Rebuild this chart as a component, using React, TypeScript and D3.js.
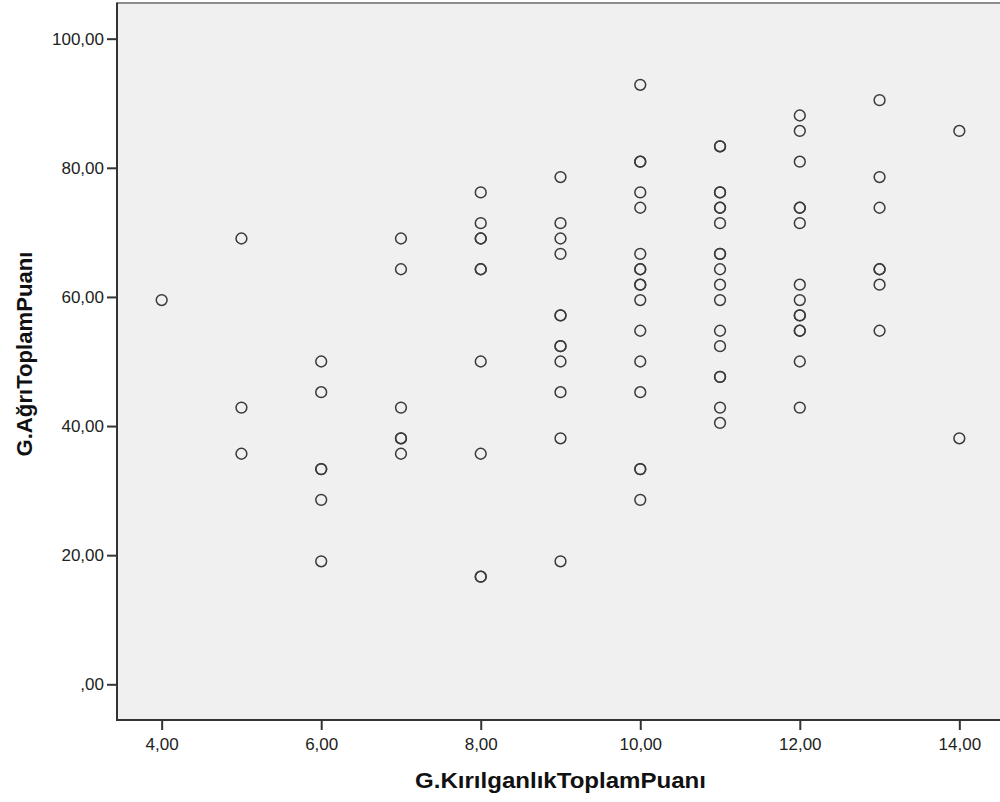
import { useEffect, useRef } from 'react';
import * as d3 from 'd3';

// G.KırılganlıkToplamPuanı groups and the G.AğrıToplamPuanı scores read per group
const fragilityScores = [4, 5, 6, 7, 8, 9, 10, 11, 12, 13, 14];
const painScores: number[][] = [
  [59.52],
  [69.05, 42.86, 35.71],
  [50.0, 45.24, 33.33, 33.33, 28.57, 19.05],
  [69.05, 64.29, 42.86, 38.1, 38.1, 35.71],
  [76.19, 71.43, 69.05, 69.05, 64.29, 64.29, 50.0, 35.71, 16.67, 16.67],
  [78.57, 71.43, 69.05, 66.67, 57.14, 57.14, 52.38, 52.38, 50.0, 45.24, 38.1, 19.05],
  [92.86, 80.95, 80.95, 76.19, 73.81, 66.67, 64.29, 64.29, 61.9, 61.9, 59.52, 54.76, 50.0, 45.24, 33.33, 33.33, 28.57],
  [83.33, 83.33, 76.19, 76.19, 73.81, 73.81, 71.43, 66.67, 66.67, 64.29, 61.9, 59.52, 54.76, 52.38, 47.62, 47.62, 42.86, 40.48],
  [88.1, 85.71, 80.95, 73.81, 73.81, 71.43, 61.9, 59.52, 57.14, 57.14, 54.76, 54.76, 50.0, 42.86],
  [90.48, 78.57, 73.81, 64.29, 64.29, 61.9, 54.76],
  [85.71, 38.1],
];
const xTicks = [4, 6, 8, 10, 12, 14];
const yTicks = [0, 20, 40, 60, 80, 100];
const xTitle = 'G.KırılganlıkToplamPuanı';
const yTitle = 'G.AğrıToplamPuanı';

const fmt = (v: number) => d3.format('.2f')(v).replace('.', ',').replace(/^0,/, ',');

const App = () => {
  const svgRef = useRef<SVGSVGElement | null>(null);

  useEffect(() => {
    const width = 1000;
    const height = 802;
    const left = 117;
    const top = 3.5;
    const bottom = 720;
    const right = 1004;
    const font = 'Arial, "Liberation Sans", sans-serif';

    const points = fragilityScores.flatMap((f, i) =>
      painScores[i].map(p => ({ x: f, y: p }))
    );

    const svg = d3.select(svgRef.current);
    svg.selectAll('*').remove();
    svg.attr('width', width).attr('height', height);

    const x = d3.scaleLinear().domain([3.44, 14.56]).range([left, right]);
    const y = d3.scaleLinear().domain([-5.53, 105.45]).range([bottom, top]);

    // plot background
    svg.append('rect')
      .attr('x', left)
      .attr('y', top)
      .attr('width', right - left)
      .attr('height', bottom - top)
      .attr('fill', '#f0f0f0');

    // top frame line
    svg.append('line')
      .attr('x1', left).attr('x2', width)
      .attr('y1', top - 0.5).attr('y2', top - 0.5)
      .attr('stroke', '#8c8c8c')
      .attr('stroke-width', 2);

    // points
    svg.append('g')
      .selectAll('circle')
      .data(points)
      .join('circle')
      .attr('cx', d => x(d.x))
      .attr('cy', d => y(d.y))
      .attr('r', 5.4)
      .attr('fill', 'none')
      .attr('stroke', '#3a3a3a')
      .attr('stroke-width', 1.5);

    // X axis
    const xAxis = svg.append('g')
      .attr('transform', `translate(0,${bottom})`)
      .call(d3.axisBottom(x).tickValues(xTicks).tickFormat(d => fmt(d as number)).tickSize(10).tickPadding(8));
    xAxis.select('.domain').remove();
    xAxis.selectAll('text')
      .style('font-family', font)
      .style('font-size', '17px')
      .style('fill', '#222');

    // Y axis
    const yAxis = svg.append('g')
      .attr('transform', `translate(${left},0)`)
      .call(d3.axisLeft(y).tickValues(yTicks).tickFormat(d => fmt(d as number)).tickSize(10).tickPadding(3));
    yAxis.select('.domain').remove();
    yAxis.selectAll('text')
      .style('font-family', font)
      .style('font-size', '17px')
      .style('fill', '#222');

    svg.selectAll('.tick line')
      .style('stroke', '#333')
      .style('stroke-width', 2);

    // axis lines
    svg.append('line')
      .attr('x1', left).attr('x2', left)
      .attr('y1', top - 1).attr('y2', bottom + 1)
      .attr('stroke', '#333').attr('stroke-width', 2);
    svg.append('line')
      .attr('x1', left - 1).attr('x2', width)
      .attr('y1', bottom).attr('y2', bottom)
      .attr('stroke', '#333').attr('stroke-width', 2);

    // titles
    svg.append('text')
      .attr('x', 560.5)
      .attr('y', 788)
      .attr('text-anchor', 'middle')
      .attr('textLength', 291)
      .attr('lengthAdjust', 'spacingAndGlyphs')
      .style('font-family', font)
      .style('font-size', '22px')
      .style('font-weight', 'bold')
      .style('fill', '#111')
      .text(xTitle);

    svg.append('text')
      .attr('transform', 'translate(31.5,354) rotate(-90)')
      .attr('text-anchor', 'middle')
      .attr('textLength', 205)
      .attr('lengthAdjust', 'spacingAndGlyphs')
      .style('font-family', font)
      .style('font-size', '22px')
      .style('font-weight', 'bold')
      .style('fill', '#111')
      .text(yTitle);
  }, []);

  return (
    <div style={{ position: 'absolute', left: 0, top: 0, width: 1000, height: 802, overflow: 'hidden', background: '#fff' }}>
      <svg ref={svgRef} style={{ display: 'block' }} />
    </div>
  );
};

export default App;
